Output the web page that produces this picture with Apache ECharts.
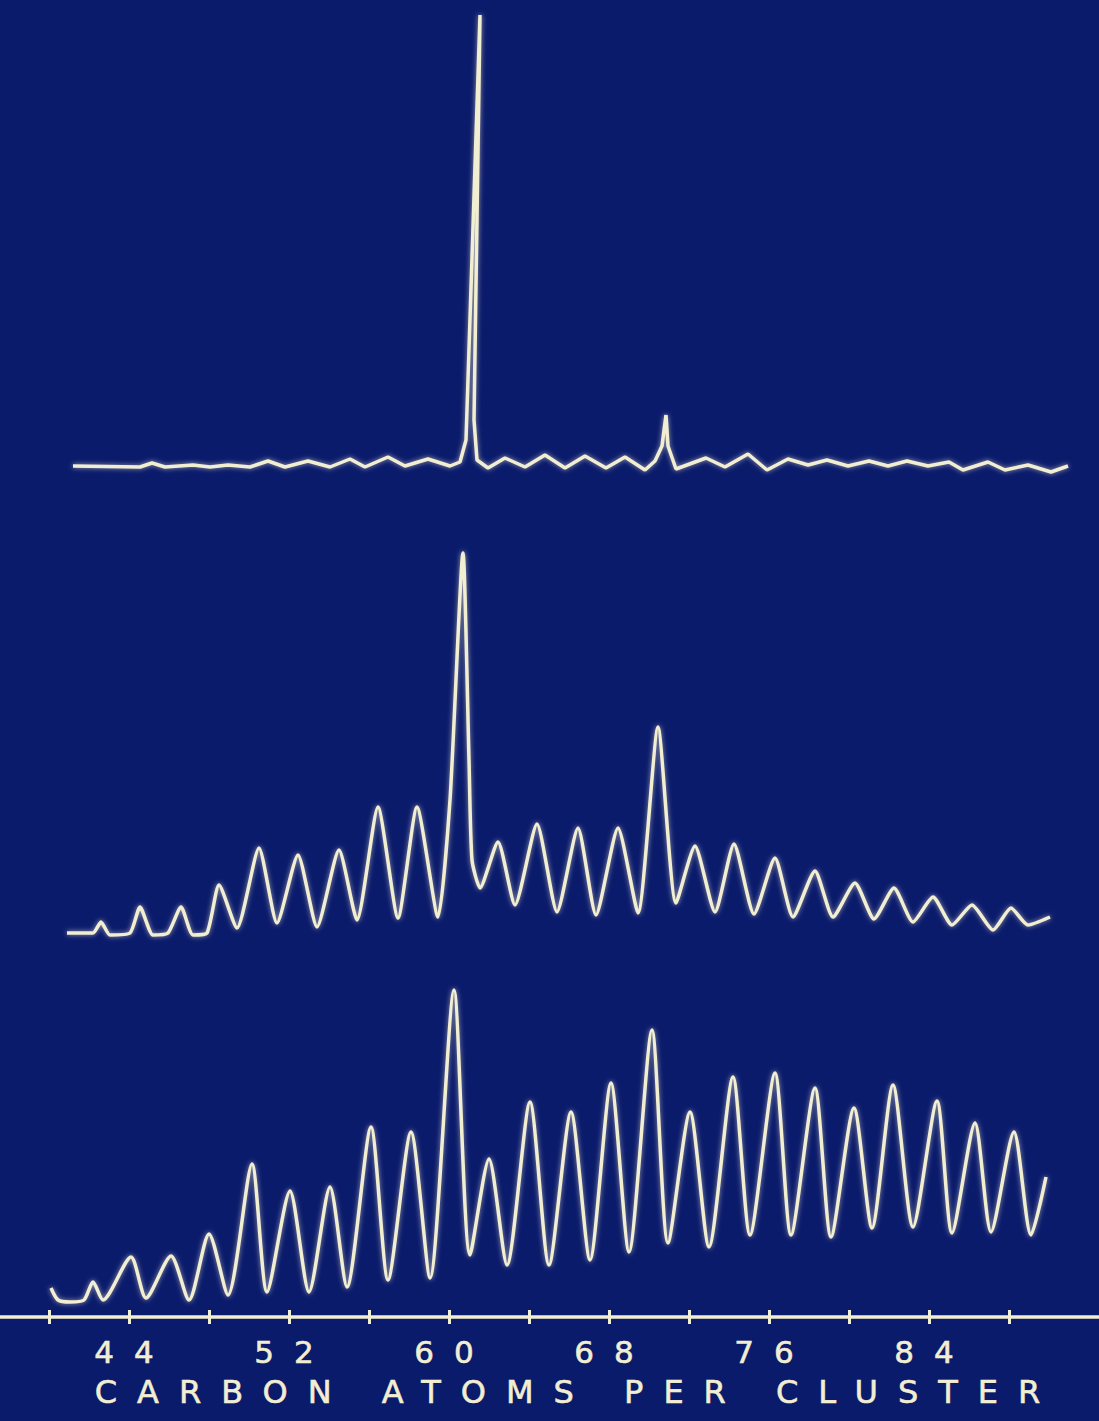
<!DOCTYPE html>
<html>
<head>
<meta charset="utf-8">
<script src="https://cdn.jsdelivr.net/npm/echarts@6/dist/echarts.min.js"></script>
<style>
html,body{margin:0;padding:0;background:#0b1b6c;}
#main{width:1099px;height:1421px;}
/* the old lettering is very wide, spread the letters out */
#main text{letter-spacing:20px;}
</style>
</head>
<body>
<div id="main"></div>
<script>
// carbon cluster spectra, x = carbon atoms, y = signal (arbitrary units above each baseline)
var topTrace = [
  [40.35,2],[43.7,1],[44.3,5],[44.95,1],[46.35,3],[47.2,1],[48.1,3],[49.2,1],[50.1,7],[50.95,1],
  [52.1,7],[53.2,1],[54.2,9],[54.95,1],[56.1,11],[56.95,2],[58.1,9],[59.2,2],[59.7,6],[60.0,28],
  [60.7,453],[60.4,48],[60.55,8],[61.1,0],[61.95,10],[62.95,1],[63.95,13],[64.95,0],[65.95,12],[67.0,0],
  [67.95,11],[68.95,-2],[69.45,7],[69.8,22],[70.0,53],[70.1,22],[70.5,-1],[72.0,10],[72.95,1],[74.1,14],
  [75.05,-2],[76.1,9],[77.1,3],[78.05,8],[79.1,2],[80.15,7],[81.1,2],[82.05,7],[83.1,2],[84.15,6],
  [84.85,-2],[86.1,6],[86.95,-2],[88.1,3],[89.25,-4],[90.1,2]
];
var middleTrace = [
  [40.45,0],[41.75,0],[42.15,11],[42.6,-2],[43.6,0],[44.1,26],[44.75,-2],[45.5,0],[46.15,26],[46.75,-2],
  [47.45,0],[48.05,48],[48.95,5],[50.05,85],[50.95,10],[52.0,78],[52.95,6],[54.05,83],[54.95,13],[56.0,126],
  [57.0,15],[57.95,126],[59.0,16],[59.6,133],[60.25,380],[60.55,173],[60.7,73],[61.1,45],[62.0,91],[62.85,28],
  [63.95,109],[64.95,21],[66.0,105],[66.9,18],[68.0,105],[69.0,20],[70.0,206],[70.9,30],[71.85,87],[72.85,21],
  [73.8,89],[74.8,19],[75.85,75],[76.75,16],[77.85,62],[78.75,16],[79.85,50],[80.8,14],[81.8,45],[82.75,11],
  [83.75,36],[84.7,8],[85.7,28],[86.75,3],[87.65,25],[88.5,8],[89.6,16]
];
var bottomTrace = [
  [40.1,17],[40.45,5],[41.05,3],[41.75,5],[42.2,23],[42.7,5],[44.1,48],[44.85,7],[46.1,49],[47.0,5],
  [48.0,71],[48.95,10],[50.15,141],[50.9,13],[52.05,114],[53.0,13],[54.05,118],[54.9,18],[56.1,178],[56.95,25],
  [58.1,173],[59.05,27],[60.25,315],[61.05,50],[62.0,146],[62.9,40],[64.05,203],[65.0,40],[66.1,193],[67.05,45],
  [68.1,222],[69.0,53],[70.15,275],[70.95,62],[72.05,193],[73.0,58],[74.2,228],[75.05,70],[76.3,232],[77.1,70],
  [78.3,217],[79.1,68],[80.25,197],[81.15,77],[82.2,220],[83.2,78],[84.4,204],[85.15,72],[86.3,182],[87.1,73],
  [88.25,173],[89.1,70],[89.85,128]
];
var tickValues = [40,44,48,52,56,60,64,68,72,76,80,84,88];
var labelValues = [44,52,60,68,76,84];
var axisTitle = 'CARBON ATOMS PER CLUSTER';

var cream = '#f2eed2';
var chart = echarts.init(document.getElementById('main'), null, {renderer: 'svg'});

// each trace of the photo sits a little shifted sideways, so each grid gets its own x range
var hiddenX = function(i, lo, hi){
  return {gridIndex:i, type:'value', min:lo, max:hi, show:false, splitLine:{show:false}};
};
var hiddenY = function(i, lo, hi){
  return {gridIndex:i, type:'value', min:lo, max:hi, show:false, splitLine:{show:false}};
};
var trace = function(i, d, sm){
  return {
    type:'line', xAxisIndex:i, yAxisIndex:i, data:d,
    showSymbol:false, silent:true, clip:false, smooth:sm,
    lineStyle:{color:cream, width:3.5, shadowBlur:5, shadowColor:'rgba(255,250,215,0.6)'}
  };
};

var option = {
  backgroundColor:'#0b1b6c',
  animation:false,
  grid:[
    {left:0, top:0, right:0, height:480, outerBoundsMode:'none'},
    {left:0, top:480, right:0, height:480, outerBoundsMode:'none'},
    {left:0, top:960, right:0, height:357, outerBoundsMode:'none'}
  ],
  xAxis:[
    hiddenX(0, 36.7, 91.65),
    hiddenX(1, 37.1, 92.05),
    {
      gridIndex:2, type:'value', min:37.55, max:92.5, position:'bottom',
      splitLine:{show:false},
      // no shadow here: a filter on a flat line hides it in svg
      axisLine:{show:true, onZero:false, lineStyle:{color:cream, width:3.5}},
      axisTick:{show:true, customValues:tickValues, length:7, lineStyle:{color:cream, width:3}},
      axisLabel:{
        customValues:labelValues, color:cream, fontSize:31, margin:19,
        fontFamily:'DejaVu Sans', padding:[0,0,0,10],
        textBorderColor:cream, textBorderWidth:0.6
      },
      name:axisTitle, nameLocation:'middle', nameGap:59,
      nameTextStyle:{
        color:cream, fontSize:32, fontFamily:'DejaVu Sans', padding:[0,0,0,56],
        textBorderColor:cream, textBorderWidth:0.6
      }
    },
    {
      // second copy of the axis only for the tick halves above the line
      gridIndex:2, type:'value', min:37.55, max:92.5, position:'bottom',
      splitLine:{show:false}, axisLine:{show:false, onZero:false}, axisLabel:{show:false},
      axisTick:{show:true, inside:true, customValues:tickValues, length:7, lineStyle:{color:cream, width:3}}
    }
  ],
  yAxis:[
    hiddenY(0, -12, 468),
    hiddenY(1, -27, 453),
    hiddenY(2, -12, 345)
  ],
  series:[
    trace(0, topTrace, false),
    trace(1, middleTrace, 0.2),
    trace(2, bottomTrace, 0.25)
  ]
};
chart.setOption(option);
</script>
</body>
</html>
